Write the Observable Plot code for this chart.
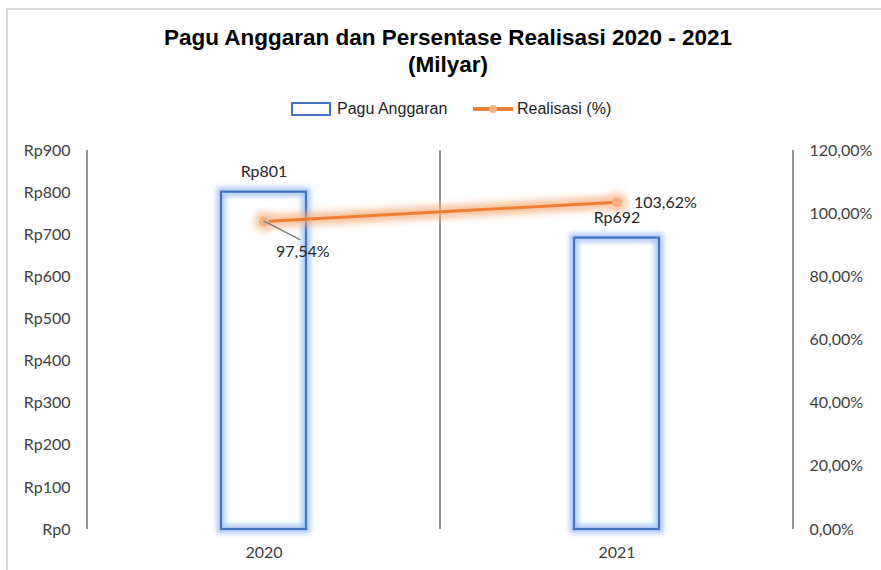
<!DOCTYPE html>
<html>
<head>
<meta charset="utf-8">
<script src="https://cdn.jsdelivr.net/npm/d3@7"></script>
<script src="https://cdn.jsdelivr.net/npm/@observablehq/plot@0.6"></script>
<style>
  body { margin: 0; background: #fff; width: 881px; height: 570px; overflow: hidden; position: relative; }
  #frame { position: absolute; left: 6px; top: 8px; width: 900px; height: 600px; border: 2px solid #d9d9d9; }
  #title { position: absolute; left: 0; width: 896px; top: 24px; text-align: center;
    font-family: "Liberation Sans Narrow", "Arial Narrow", "Liberation Sans", Arial, sans-serif;
    font-weight: bold; font-size: 22.5px; line-height: 27px; color: #000; }
  #legend { position: absolute; top: 98px; left: 0; width: 881px; height: 22px;
    font-family: "Liberation Sans Narrow", "Arial Narrow", "Liberation Sans", sans-serif; font-size: 16px; color: #222; }
  #legend .item { position: absolute; top: 0; display: flex; align-items: center; height: 22px; }
  #chart { position: absolute; left: 0; top: 125px; }
</style>
</head>
<body>
<div id="frame"></div>
<div id="title">Pagu Anggaran dan Persentase Realisasi 2020 - 2021<br>(Milyar)</div>
<div id="legend">
  <div class="item" style="left:291px"><svg width="42" height="16"><rect x="1" y="2" width="38" height="12" fill="#fff" stroke="#4472C4" stroke-width="2"/></svg><span style="margin-left:4px">Pagu Anggaran</span></div>
  <div class="item" style="left:472px"><svg width="44" height="16"><line x1="1" y1="8" x2="41" y2="8" stroke="#ED7D31" stroke-width="4"/><circle cx="21" cy="8" r="4" fill="#F4B183"/></svg><span style="margin-left:1px">Realisasi (%)</span></div>
</div>
<div id="chart"></div>
<script>
const years = ["2020", "2021"];
const pagu = [801, 692];
const realisasi = [97.54, 103.62];
const paguLabels = ["Rp801", "Rp692"];
const realisasiLabels = ["97,54%", "103,62%"];
const leftTicks = [0, 100, 200, 300, 400, 500, 600, 700, 800, 900];
const rightTicks = [0, 20, 40, 60, 80, 100, 120];

const yMax = 900, pMax = 120;
const toY = p => p * yMax / pMax;
const data = years.map((y, i) => ({year: y, pagu: pagu[i], real: realisasi[i], py: toY(realisasi[i]), pl: paguLabels[i], rl: realisasiLabels[i]}));

const font = "Lato, 'Open Sans', sans-serif";

// dividers at band boundaries
function dividers(index, scales, values, dim) {
  const g = d3.create("svg:g");
  const x = scales.x;
  const gap = (x.step() - x.bandwidth()) / 2;
  const bounds = [x(years[0]) - gap];
  years.forEach(y => bounds.push(x(y) + x.bandwidth() + gap));
  bounds.forEach(b => g.append("line").attr("x1", b).attr("x2", b)
    .attr("y1", dim.marginTop).attr("y2", dim.height - dim.marginBottom)
    .attr("stroke", "#595959").attr("stroke-width", 1.3));
  return g.node();
}
function leader(index, scales) {
  const g = d3.create("svg:g");
  const d = data[0];
  const cx = scales.x(d.year) + scales.x.bandwidth() / 2;
  const cy = scales.y(d.py);
  g.append("line").attr("x1", cx).attr("y1", cy).attr("x2", cx + 37).attr("y2", cy + 19)
    .attr("stroke", "#7f7f7f").attr("stroke-width", 1.5);
  return g.node();
}

const chart = Plot.plot({
  width: 881,
  height: 445,
  marginLeft: 87,
  marginRight: 88,
  marginTop: 25,
  marginBottom: 41,
  style: {fontFamily: font, fontSize: "16px", color: "#404040", background: "transparent"},
  x: {type: "band", domain: years, paddingInner: 0.76, paddingOuter: 0.38, label: null},
  y: {domain: [0, yMax], label: null},
  marks: [
    Plot.axisY({ticks: leftTicks, tickSize: 0, tickPadding: 17, tickFormat: d => "Rp" + d, label: null, fontSize: 16}),
    Plot.axisY({anchor: "right", ticks: rightTicks.map(toY), tickSize: 0, tickPadding: 16,
      tickFormat: d => (d * pMax / yMax).toFixed(2).replace(".", ",") + "%", label: null, fontSize: 16}),
    Plot.axisX({tickSize: 0, tickPadding: 17, label: null, fontSize: 16}),
    dividers,
    // bar glow
    Plot.barY(data, {x: "year", y: "pagu", fill: "none", stroke: "#9fc2f7", strokeWidth: 9, strokeOpacity: 0.85}),
    Plot.barY(data, {x: "year", y: "pagu", fill: "none", stroke: "#4472C4", strokeWidth: 2.2}),
    // line glow
    Plot.line(data, {x: "year", y: "py", stroke: "#F6B07F", strokeWidth: 13, strokeOpacity: 0.75}),
    Plot.dot(data, {x: "year", y: "py", r: 10, fill: "#F9CDAE", fillOpacity: 0.95}),
    Plot.line(data, {x: "year", y: "py", stroke: "#ED7D31", strokeWidth: 3}),
    Plot.dot(data, {x: "year", y: "py", r: 5, fill: "#F4B183"}),
    leader,
    Plot.text(data, {x: "year", y: "pagu", text: "pl", dy: -20, fill: "#262626", fontSize: 16}),
    Plot.text([data[0]], {x: "year", y: "py", text: "rl", dx: 12, dy: 30, textAnchor: "start", fill: "#262626", fontSize: 16}),
    Plot.text([data[1]], {x: "year", y: "py", text: "rl", dx: 17, dy: 1, textAnchor: "start", fill: "#262626", fontSize: 16})
  ]
});

// glow filters
const svg = d3.select(chart);
const defs = svg.insert("defs", ":first-child");
defs.append("filter").attr("id", "blurB").attr("x", "-50%").attr("y", "-50%").attr("width", "200%").attr("height", "200%")
  .append("feGaussianBlur").attr("stdDeviation", 2.5);
defs.append("filter").attr("id", "blurO").attr("x", "-50%").attr("y", "-50%").attr("width", "200%").attr("height", "200%")
  .append("feGaussianBlur").attr("stdDeviation", 3.5);
const gs = svg.selectAll(":scope > g").nodes();
const bars = gs.filter(n => n.getAttribute("aria-label") === "bar");
const lines = gs.filter(n => n.getAttribute("aria-label") === "line");
const dots = gs.filter(n => n.getAttribute("aria-label") === "dot");
if (bars[0]) bars[0].setAttribute("filter", "url(#blurB)");
if (lines[0]) lines[0].setAttribute("filter", "url(#blurO)");
if (dots[0]) dots[0].setAttribute("filter", "url(#blurO)");
svg.selectAll("g[aria-label='y-axis tick label'] text, g[aria-label='x-axis tick label'] text").attr("fill", "#404040");
document.getElementById("chart").appendChild(chart);
</script>
</body>
</html>
